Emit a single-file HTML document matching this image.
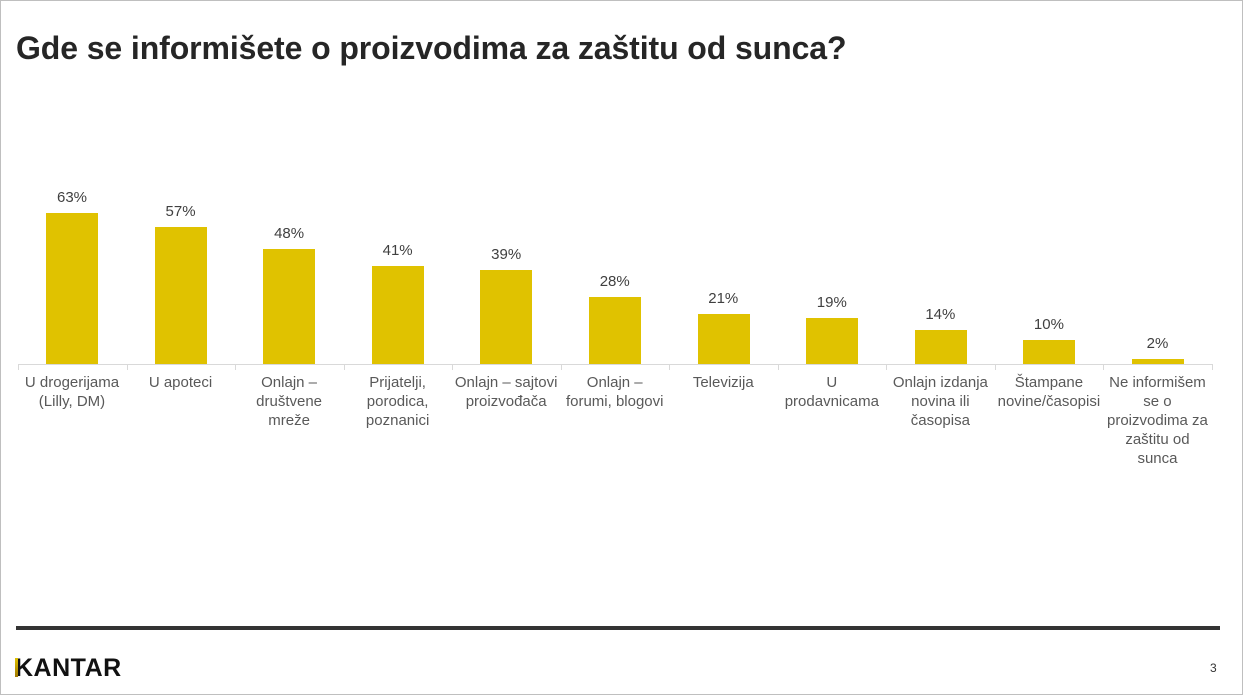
<!DOCTYPE html><html><head><meta charset="utf-8"><style>
body{margin:0;width:1243px;height:695px;position:relative;background:#fff;font-family:"Liberation Sans",sans-serif;overflow:hidden}
.frame{position:absolute;left:0;top:0;width:1241px;height:693px;border:1px solid #bfbfbf}
h1{position:absolute;left:16px;top:30px;margin:0;font-size:32px;font-weight:bold;color:#262626;letter-spacing:-0.1px}
.bar{position:absolute;width:52px;background:#e0c200;bottom:331px}
.val{position:absolute;width:108px;text-align:center;font-size:15px;color:#404040}
.cat{position:absolute;top:373px;width:108px;text-align:center;font-size:15px;line-height:19px;color:#595959}
.axis{position:absolute;left:18px;top:364px;width:1194px;height:1px;background:#d9d9d9}
.tick{position:absolute;top:364px;width:1px;height:6px;background:#d9d9d9}
.line{position:absolute;left:16px;top:626px;width:1204px;height:4px;background:#333}
.logo{position:absolute;left:15px;top:654px;font-size:25px;font-weight:bold;color:#111;letter-spacing:0.5px}
.logo span{display:inline-block;width:3px;height:19px;background:linear-gradient(#e0c200,#a07800);vertical-align:-1px;margin-right:-3px;position:relative;z-index:1}
.pn{position:absolute;left:1210px;top:661px;font-size:12px;color:#333}
</style></head><body><div class="frame"></div>
<h1>Gde se informišete o proizvodima za zaštitu od sunca?</h1>
<div class="axis"></div>
<div id="c"></div>
<div class="line"></div>
<div class="logo"><span></span>KANTAR</div>
<div class="pn">3</div>
<script>
var d=[[63,"U drogerijama (Lilly, DM)"],[57,"U apoteci"],[48,"Onlajn –<br>društvene<br>mreže"],[41,"Prijatelji,<br>porodica,<br>poznanici"],[39,"Onlajn – sajtovi proizvođača"],[28,"Onlajn –<br>forumi, blogovi"],[21,"Televizija"],[19,"U<br>prodavnicama"],[14,"Onlajn izdanja novina ili<br>časopisa"],[10,"Štampane novine/časopisi"],[2,"Ne informišem se o proizvodima za zaštitu od sunca"]];
var w=1194/11,h="";
for(var i=0;i<d.length;i++){var x=18+i*w,bh=d[i][0]*2.4;
h+='<div class="bar" style="left:'+(x+w/2-26)+'px;height:'+bh+'px"></div>';
h+='<div class="val" style="left:'+x+'px;top:'+(364-bh-24)+'px">'+d[i][0]+'%</div>';
h+='<div class="cat" style="left:'+x+'px">'+d[i][1]+'</div>';
h+='<div class="tick" style="left:'+x+'px"></div>';}
h+='<div class="tick" style="left:1212px"></div>';
document.getElementById("c").innerHTML=h;
</script></body></html>
